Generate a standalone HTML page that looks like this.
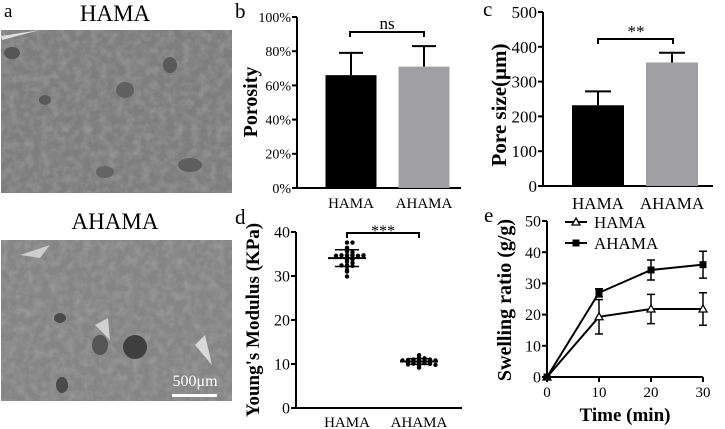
<!DOCTYPE html>
<html><head><meta charset="utf-8">
<style>
html,body{margin:0;padding:0;background:#fff;}
body{width:725px;height:429px;overflow:hidden;position:relative;font-family:"Liberation Serif",serif;}
svg{position:absolute;left:0;top:0;}
</style></head>
<body>
<svg id="fig" width="725" height="429" viewBox="0 0 725 429" xmlns="http://www.w3.org/2000/svg" font-family="Liberation Serif, serif">
  <defs>
    <filter id="tex" x="0" y="0" width="100%" height="100%">
      <feTurbulence type="fractalNoise" baseFrequency="0.12" numOctaves="3" seed="4"/>
      <feColorMatrix type="matrix" values="0 0 0 0 0.5  0 0 0 0 0.5  0 0 0 0 0.5  0 0 0 1.4 -0.5"/>
      <feComposite in2="SourceGraphic" operator="in"/>
    </filter>
  </defs>
  <g>
    <text x="4" y="17" font-size="19">a</text>
    <text x="115" y="21" font-size="23" text-anchor="middle">HAMA</text>
    <g>
      <rect x="1" y="30" width="231" height="163" fill="#7e7e7e"/>
      <rect x="1" y="30" width="231" height="163" fill="#000" filter="url(#tex)" opacity="0.5"/>
      <ellipse cx="12" cy="53" rx="8" ry="6" fill="#555"/>
      <ellipse cx="45" cy="100" rx="6" ry="5" fill="#5a5a5a"/>
      <ellipse cx="125" cy="90" rx="9" ry="8" fill="#606060"/>
      <ellipse cx="170" cy="65" rx="7" ry="8" fill="#595959"/>
      <ellipse cx="190" cy="165" rx="12" ry="7" fill="#5e5e5e"/>
      <ellipse cx="105" cy="172" rx="9" ry="6" fill="#656565"/>
      <path d="M1 36 L40 30 L2 40 Z" fill="#ddd"/>
    </g>
    <text x="115" y="229" font-size="23" text-anchor="middle">AHAMA</text>
    <g>
      <rect x="1" y="240" width="231" height="161" fill="#858585"/>
      <rect x="1" y="240" width="231" height="161" fill="#000" filter="url(#tex)" opacity="0.5"/>
      <ellipse cx="135" cy="347" rx="12" ry="12" fill="#3f3f3f"/>
      <ellipse cx="100" cy="345" rx="8" ry="10" fill="#555"/>
      <ellipse cx="60" cy="318" rx="6" ry="5" fill="#4a4a4a"/>
      <ellipse cx="62" cy="385" rx="6" ry="8" fill="#4a4a4a"/>
      <path d="M95 325 L108 318 L110 340 Z" fill="#d0d0d0"/>
      <path d="M195 345 L205 335 L212 365 Z" fill="#d8d8d8"/>
      <path d="M20 255 L50 245 L40 258 Z" fill="#ccc"/>
      <text x="195" y="386" font-size="16" fill="#fff" text-anchor="middle">500μm</text>
      <rect x="172" y="394" width="45" height="3" fill="#fff"/>
    </g>
  </g>
  <g id="pb"></g>
  <g id="pc"></g>
  <g id="pd"></g>
  <g id="pe"></g>
</svg>
<script>
// ---- data ----
const barCategories = ["HAMA","AHAMA"];
const porosityMeans = [66, 71];
const porosityErr = [13, 12];
const poreMeans = [232, 355];
const poreErr = [40, 28];
const barColors = ["#000000","#a0a0a4"];
const porosityTicks = ["0%","20%","40%","60%","80%","100%"];
const poreTicks = ["0","100","200","300","400","500"];
const modulusTicks = ["0","10","20","30","40"];
const hamaModulus = [37.6,37.6,36.4,36.2,35.6,35.4,34.8,34.8,34.7,34.6,34.7,34.6,34.6,34.7,34.2,33.8,33.6,33.2,33.0,32.4,32.3,32.4,32.2,31.4,31.0,29.9];
const ahamaModulus = [12.0,11.5,11.3,11.2,11.1,11.0,11.0,10.9,10.8,10.8,10.7,10.6,10.5,10.4,10.3,10.2,10.2,10.1,10.0,9.9,9.8,9.6,9.2];
const timeValues = [0,10,20,30];
const hamaSwelling = [0,19.3,21.8,21.8];
const hamaSwellErr = [0,5.5,4.7,5.2];
const ahamaSwelling = [0,27,34.3,36];
const ahamaSwellErr = [0,1.3,3.2,4.3];
const swellTicks = ["0","10","20","30","40","50"];
const timeTicks = ["0","10","20","30"];

const NS="http://www.w3.org/2000/svg";
function mk(parent,tag,attrs,text){const e=document.createElementNS(NS,tag);for(const k in attrs)e.setAttribute(k,attrs[k]);if(text!==undefined)e.textContent=text;parent.appendChild(e);return e;}
function mean(a){return a.reduce((s,v)=>s+v,0)/a.length;}
function sd(a){const m=mean(a);return Math.sqrt(a.reduce((s,v)=>s+(v-m)*(v-m),0)/(a.length-1));}

function yAxis(g,x,yScale,vals,labels,fs,w){
  let ax=mk(g,'line',{x1:x,x2:x,y1:yScale(vals[vals.length-1]),y2:yScale(vals[0]),stroke:'#000','stroke-width':w});
  
  
  vals.forEach((v,i)=>{
    let t=mk(g,'line',{x1:x-5,x2:x,y1:yScale(v),y2:yScale(v),stroke:'#000','stroke-width':w});
    
    
    let l=mk(g,'text',{x:x-6,y:yScale(v)+fs*0.35,'font-size':fs,'text-anchor':'end'},labels[i]);
    
    
  });
}

// ---- Panel b ----
(function(){
  const g=document.getElementById('pb');
  const y0=188,y1=17,x0=297;
  const ys=v=>y0-(v/100)*(y0-y1);
  mk(g,'text',{x:235,y:18,'font-size':21},'b');
  yAxis(g,x0,ys,[0,20,40,60,80,100],porosityTicks,14,2);
  let xa=mk(g,'line',{x1:x0,x2:461,y1:y0,y2:y0,stroke:'#000','stroke-width':2});
  
  
  const centers=[351,424],bw=51;
  barCategories.forEach((c,i)=>{
    let eb=mk(g,'path',{d:`M${centers[i]} ${ys(porosityMeans[i])} V${ys(porosityMeans[i]+porosityErr[i])} M${centers[i]-12} ${ys(porosityMeans[i]+porosityErr[i])} H${centers[i]+12}`,stroke:'#000','stroke-width':2,fill:'none'});
    
    
    let r=mk(g,'rect',{x:centers[i]-bw/2,y:ys(porosityMeans[i]),width:bw,height:y0-ys(porosityMeans[i]),fill:barColors[i]});
    
    
    let l=mk(g,'text',{x:centers[i],y:208,'font-size':15,'text-anchor':'middle'},c);
    
    
  });
  let br=mk(g,'path',{d:'M350 37 V32 H424 V37',stroke:'#000','stroke-width':2,fill:'none'});
  
  
  let s=mk(g,'text',{x:387,y:29,'font-size':17,'text-anchor':'middle'},'ns');
  
  
  let yl=mk(g,'text',{x:0,y:0,'font-size':20,'font-weight':'bold','text-anchor':'middle',transform:'translate(257,102) rotate(-90)'},'Porosity');
  
  
})();

// ---- Panel c ----
(function(){
  const g=document.getElementById('pc');
  const y0=186,y1=12,x0=543;
  const ys=v=>y0-(v/500)*(y0-y1);
  mk(g,'text',{x:483,y:16,'font-size':21},'c');
  yAxis(g,x0,ys,[0,100,200,300,400,500],poreTicks,17,2);
  let xa=mk(g,'line',{x1:x0,x2:713,y1:y0,y2:y0,stroke:'#000','stroke-width':2});
  
  
  const centers=[598,672],bw=52;
  barCategories.forEach((c,i)=>{
    let eb=mk(g,'path',{d:`M${centers[i]} ${ys(poreMeans[i])} V${ys(poreMeans[i]+poreErr[i])} M${centers[i]-13} ${ys(poreMeans[i]+poreErr[i])} H${centers[i]+13}`,stroke:'#000','stroke-width':2,fill:'none'});
    
    
    let r=mk(g,'rect',{x:centers[i]-bw/2,y:ys(poreMeans[i]),width:bw,height:y0-ys(poreMeans[i]),fill:barColors[i]});
    
    
    let l=mk(g,'text',{x:centers[i],y:209,'font-size':17,'text-anchor':'middle'},c);
    
    
  });
  let br=mk(g,'path',{d:'M598 44 V39 H673 V44',stroke:'#000','stroke-width':2,fill:'none'});
  
  
  let s=mk(g,'text',{x:636,y:37,'font-size':17,'text-anchor':'middle'},'**');
  
  
  let yl=mk(g,'text',{x:0,y:0,'font-size':21,'font-weight':'bold','text-anchor':'middle',transform:'translate(506,105) rotate(-90)'},'Pore size(μm)');
  
  
})();

// ---- Panel d ----
(function(){
  const g=document.getElementById('pd');
  const y0=408,y1=232,x0=296;
  const ys=v=>y0-(v/40)*(y0-y1);
  mk(g,'text',{x:235,y:224,'font-size':21},'d');
  yAxis(g,x0,ys,[0,10,20,30,40],modulusTicks,16,2);
  let xa=mk(g,'line',{x1:x0,x2:462,y1:y0,y2:y0,stroke:'#000','stroke-width':2});
  
  
  const centers=[347,419];
  [hamaModulus,ahamaModulus].forEach((arr,gi)=>{
    const cx=centers[gi];
    const byRow={};
    arr.forEach((v,i)=>{
      const key=Math.round(v*2);
      byRow[key]=(byRow[key]||0)+1;
      const k=byRow[key]-1;
      const off=(k%2?1:-1)*Math.ceil(k/2)*5.5;
      let c=mk(g,'circle',{cx:cx+off,cy:ys(v),r:2.2,fill:'#000'});
      
      
    });
    const m=mean(arr),s=sd(arr);
    let ml=mk(g,'line',{x1:cx-19,x2:cx+19,y1:ys(m),y2:ys(m),stroke:'#000','stroke-width':2});
    
    
    let sl=mk(g,'path',{d:`M${cx-12} ${ys(m+s)} H${cx+12} M${cx} ${ys(m+s)} V${ys(m-s)} M${cx-12} ${ys(m-s)} H${cx+12}`,stroke:'#000','stroke-width':1.5,fill:'none'});
    
    
    let l=mk(g,'text',{x:cx,y:427,'font-size':15,'text-anchor':'middle'},barCategories[gi]);
    
    
  });
  let br=mk(g,'path',{d:'M347 238 V233 H419 V238',stroke:'#000','stroke-width':2,fill:'none'});
  
  
  let s=mk(g,'text',{x:383,y:236,'font-size':16,'text-anchor':'middle'},'***');
  
  
  let yl=mk(g,'text',{x:0,y:0,'font-size':19,'font-weight':'bold','text-anchor':'middle',transform:'translate(259,320) rotate(-90)'},"Young's Modulus (KPa)");
  
  
})();

// ---- Panel e ----
(function(){
  const g=document.getElementById('pe');
  const y0=377,y1=221,x0=547,x1=703;
  const ys=v=>y0-(v/50)*(y0-y1);
  const xs=t=>x0+(t/30)*(x1-x0);
  mk(g,'text',{x:484,y:222,'font-size':21},'e');
  yAxis(g,x0,ys,[0,10,20,30,40,50],swellTicks,16,2);
  let xa=mk(g,'line',{x1:x0,x2:x1,y1:y0,y2:y0,stroke:'#000','stroke-width':2});
  
  
  [0,10,20,30].forEach((t,i)=>{
    let tk=mk(g,'line',{x1:xs(t),x2:xs(t),y1:y0,y2:y0+5,stroke:'#000','stroke-width':2});
    
    
    let l=mk(g,'text',{x:xs(t),y:397,'font-size':15,'text-anchor':'middle'},timeTicks[i]);
    
    
  });
  function series(vals,errs,name,marker){
    const d=vals.map((v,i)=>(i?'L':'M')+xs(timeValues[i])+' '+ys(v)).join(' ');
    let p=mk(g,'path',{d:d,stroke:'#000','stroke-width':2,fill:'none'});
    
    
    vals.forEach((v,i)=>{
      const x=xs(timeValues[i]);
      if(errs[i]>0){
        let e=mk(g,'path',{d:`M${x} ${ys(v-errs[i])} V${ys(v+errs[i])} M${x-4} ${ys(v-errs[i])} H${x+4} M${x-4} ${ys(v+errs[i])} H${x+4}`,stroke:'#000','stroke-width':1.5,fill:'none'});
        
        
      }
      let m;
      if(marker==='sq') m=mk(g,'rect',{x:x-3.5,y:ys(v)-3.5,width:7,height:7,fill:'#000'});
      else m=mk(g,'path',{d:`M${x} ${ys(v)-4} L${x+4} ${ys(v)+3} L${x-4} ${ys(v)+3} Z`,fill:'#fff',stroke:'#000','stroke-width':1.3});
      
      
    });
  }
  series(hamaSwelling,hamaSwellErr,'hama','tri');
  series(ahamaSwelling,ahamaSwellErr,'ahama','sq');
  let lg=mk(g,'g',{});
  
  
  mk(lg,'line',{x1:565,x2:587,y1:222,y2:222,stroke:'#000','stroke-width':2});
  mk(lg,'path',{d:'M576 218 L580 225 L572 225 Z',fill:'#fff',stroke:'#000','stroke-width':1.3});
  let t1=mk(lg,'text',{x:594,y:228,'font-size':17},'HAMA');
  
  
  mk(lg,'line',{x1:565,x2:587,y1:243,y2:243,stroke:'#000','stroke-width':2});
  mk(lg,'rect',{x:572.5,y:239.5,width:7,height:7,fill:'#000'});
  let t2=mk(lg,'text',{x:594,y:249,'font-size':17},'AHAMA');
  
  
  let xl=mk(g,'text',{x:625,y:421,'font-size':19,'font-weight':'bold','text-anchor':'middle'},'Time (min)');
  
  
  let yl=mk(g,'text',{x:0,y:0,'font-size':20,'font-weight':'bold','text-anchor':'middle',transform:'translate(511,300) rotate(-90)'},'Swelling ratio (g/g)');
  
  
})();
</script>
</body></html>
